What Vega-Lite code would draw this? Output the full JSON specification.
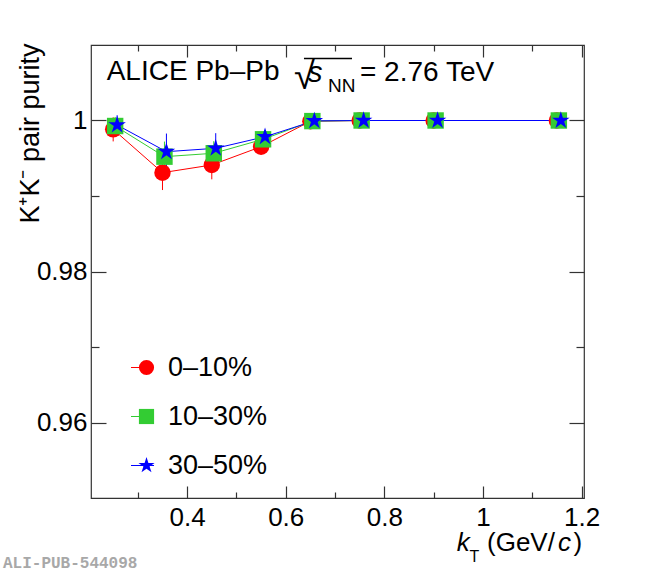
{
  "$schema": "https://vega.github.io/schema/vega-lite/v6.json",
  "width": 493,
  "height": 453,
  "autosize": "none",
  "padding": {"left": 91, "top": 45, "right": 66, "bottom": 74},
  "background": "white",
  "config": {
    "font": "Liberation Sans",
    "view": {"stroke": "#333333", "strokeWidth": 1.2},
    "legend": {"orient": "none", "legendX": 42, "legendY": 309, "padding": 0},
    "axis": {
      "grid": false,
      "domain": false,
      "tickColor": "#333333",
      "tickWidth": 1.2,
      "labelFont": "Liberation Sans",
      "labelFontSize": 26,
      "labelColor": "black",
      "labelFlush": false,
      "labelOverlap": false,
      "titleFont": "Liberation Sans",
      "titleFontWeight": "normal",
      "titleColor": "black"
    }
  },
  "datasets": {
    "purity": [
      {"cent": "0–10%", "kT": 0.25, "purity": 0.99883, "lo": 0.99723, "hi": 1.00043},
      {"cent": "0–10%", "kT": 0.35, "purity": 0.99309, "lo": 0.99079, "hi": 0.99539},
      {"cent": "0–10%", "kT": 0.45, "purity": 0.99411, "lo": 0.99221, "hi": 0.99601},
      {"cent": "0–10%", "kT": 0.55, "purity": 0.99653, "lo": 0.99553, "hi": 0.99753},
      {"cent": "0–10%", "kT": 0.65, "purity": 0.99990, "lo": 0.99960, "hi": 1.00020},
      {"cent": "0–10%", "kT": 0.75, "purity": 1.0, "lo": 0.9999, "hi": 1.0001},
      {"cent": "0–10%", "kT": 0.90, "purity": 1.0, "lo": 0.9999, "hi": 1.0001},
      {"cent": "0–10%", "kT": 1.15, "purity": 1.0, "lo": 0.9999, "hi": 1.0001},
      {"cent": "10–30%", "kT": 0.254, "purity": 0.99927, "lo": 0.99807, "hi": 1.00047},
      {"cent": "10–30%", "kT": 0.354, "purity": 0.99521, "lo": 0.99321, "hi": 0.99721},
      {"cent": "10–30%", "kT": 0.454, "purity": 0.99566, "lo": 0.99406, "hi": 0.99726},
      {"cent": "10–30%", "kT": 0.554, "purity": 0.99751, "lo": 0.99661, "hi": 0.99841},
      {"cent": "10–30%", "kT": 0.654, "purity": 0.99992, "lo": 0.99962, "hi": 1.00022},
      {"cent": "10–30%", "kT": 0.754, "purity": 1.0, "lo": 0.9999, "hi": 1.0001},
      {"cent": "10–30%", "kT": 0.904, "purity": 1.0, "lo": 0.9999, "hi": 1.0001},
      {"cent": "10–30%", "kT": 1.154, "purity": 1.0, "lo": 0.9999, "hi": 1.0001},
      {"cent": "30–50%", "kT": 0.258, "purity": 0.99940, "lo": 0.99810, "hi": 1.00070},
      {"cent": "30–50%", "kT": 0.358, "purity": 0.99587, "lo": 0.99347, "hi": 0.99827},
      {"cent": "30–50%", "kT": 0.458, "purity": 0.99632, "lo": 0.99432, "hi": 0.99832},
      {"cent": "30–50%", "kT": 0.558, "purity": 0.99785, "lo": 0.99705, "hi": 0.99865},
      {"cent": "30–50%", "kT": 0.658, "purity": 0.99995, "lo": 0.99975, "hi": 1.00015},
      {"cent": "30–50%", "kT": 0.758, "purity": 1.0, "lo": 0.9999, "hi": 1.0001},
      {"cent": "30–50%", "kT": 0.908, "purity": 1.0, "lo": 0.9999, "hi": 1.0001},
      {"cent": "30–50%", "kT": 1.158, "purity": 1.0, "lo": 0.9999, "hi": 1.0001}
    ]
  },
  "data": {"name": "purity"},
  "layer": [
    {
      "mark": {"type": "line", "strokeWidth": 1},
      "encoding": {
        "x": {
          "field": "kT", "type": "quantitative",
          "scale": {"domain": [0.205, 1.205], "nice": false, "zero": false},
          "axis": {"orient": "bottom", "values": [0.4, 0.6, 0.8, 1, 1.2], "format": "~g", "tickSize": -12, "labelPadding": 18, "title": null}
        },
        "y": {
          "field": "purity", "type": "quantitative",
          "scale": {"domain": [0.95, 1.01], "nice": false, "zero": false},
          "axis": {
            "orient": "left", "values": [0.96, 0.98, 1], "format": "~g", "tickSize": -15, "labelPadding": 19,
            "title": "K⁺K⁻ pair purity", "titleFontSize": 27, "titleAngle": 270, "titleAlign": "right",
            "titleBaseline": "alphabetic", "titleX": -53, "titleY": -2
          }
        },
        "stroke": {
          "field": "cent", "type": "nominal",
          "scale": {"range": ["#ff0000", "#33cc33", "#0000ff"]},
          "legend": {
            "orient": "none", "legendX": 38, "legendY": 309, "title": null, "padding": 0,
            "labelFont": "Liberation Sans", "labelFontSize": 27, "labelOpacity": 0,
            "labelOffset": 4, "rowPadding": 21, "symbolType": "stroke", "symbolSize": 529, "symbolStrokeWidth": 1
          }
        }
      }
    },
    {
      "mark": {"type": "rule", "strokeWidth": 1},
      "encoding": {
        "x": {
          "field": "kT", "type": "quantitative",
          "axis": {"orient": "bottom", "values": [0.3, 0.5, 0.7, 0.9, 1.1], "tickSize": -6, "labels": false, "title": null}
        },
        "y": {
          "field": "lo", "type": "quantitative",
          "axis": {"orient": "left", "values": [0.97, 0.99], "tickSize": -8, "labels": false, "title": null}
        },
        "y2": {"field": "hi"},
        "stroke": {"field": "cent", "type": "nominal"}
      }
    },
    {
      "mark": {"type": "point", "filled": true, "opacity": 1, "size": 270},
      "encoding": {
        "x": {
          "field": "kT", "type": "quantitative",
          "axis": {"orient": "top", "values": [0.4, 0.6, 0.8, 1, 1.2], "tickSize": -12, "labels": false, "title": null}
        },
        "y": {
          "field": "purity", "type": "quantitative",
          "axis": {"orient": "right", "values": [0.96, 0.98, 1], "tickSize": -15, "labels": false, "title": null}
        },
        "color": {
          "field": "cent", "type": "nominal",
          "scale": {"domain": ["0–10%", "10–30%", "30–50%"], "range": ["#ff0000", "#33cc33", "#0000ff"]},
          "legend": {
            "orient": "none", "legendX": 42, "legendY": 309, "title": null, "padding": 0,
            "labelFont": "Liberation Sans", "labelFontSize": 27, "labelColor": "black",
            "labelOffset": 8, "rowPadding": 21, "symbolSize": 230
          }
        },
        "shape": {
          "field": "cent", "type": "nominal",
          "scale": {
            "domain": ["0–10%", "10–30%", "30–50%"],
            "range": ["circle", "square", "M0,-1.12L0.2501,-0.3443L1.0652,-0.3461L0.4048,0.1315L0.6583,0.9061L0,0.4256L-0.6583,0.9061L-0.4048,0.1315L-1.0652,-0.3461L-0.2501,-0.3443Z"]
          },
          "legend": {
            "orient": "none", "legendX": 42, "legendY": 309, "title": null, "padding": 0,
            "labelFont": "Liberation Sans", "labelFontSize": 27, "labelColor": "black",
            "labelOffset": 8, "rowPadding": 21, "symbolSize": 230
          }
        }
      }
    },
    {
      "data": {"values": [{"t": "ALICE Pb–Pb"}]},
      "mark": {"type": "text", "align": "left", "baseline": "alphabetic", "fontSize": 28, "color": "black"},
      "encoding": {
        "x": {"datum": 0.2368, "type": "quantitative", "axis": {"orient": "top", "values": [0.3, 0.5, 0.7, 0.9, 1.1], "tickSize": -6, "labels": false, "title": null}},
        "y": {"datum": 1.00536, "type": "quantitative", "axis": {"orient": "right", "values": [0.97, 0.99], "tickSize": -8, "labels": false, "title": null}},
        "text": {"field": "t"}
      }
    },
    {
      "data": {"values": [{"t": "√"}]},
      "mark": {"type": "text", "align": "left", "baseline": "alphabetic", "fontSize": 38, "color": "black"},
      "encoding": {
        "x": {"datum": 0.6168, "type": "quantitative", "axis": null},
        "y": {"datum": 1.0042, "type": "quantitative", "axis": null},
        "text": {"field": "t"}
      }
    },
    {
      "data": {"values": [{"t": "overline"}]},
      "mark": {"type": "rule", "strokeWidth": 1.3, "color": "black"},
      "encoding": {
        "x": {"datum": 0.637, "type": "quantitative", "axis": null},
        "x2": {"datum": 0.7344},
        "y": {"datum": 1.00821, "type": "quantitative", "axis": null}
      }
    },
    {
      "data": {"values": [{"t": "s"}]},
      "mark": {"type": "text", "align": "left", "baseline": "alphabetic", "fontSize": 29, "fontStyle": "italic", "color": "black"},
      "encoding": {
        "x": {"datum": 0.6452, "type": "quantitative", "axis": null},
        "y": {"datum": 1.0051, "type": "quantitative", "axis": null},
        "text": {"field": "t"}
      }
    },
    {
      "data": {"values": [{"t": "NN"}]},
      "mark": {"type": "text", "align": "left", "baseline": "alphabetic", "fontSize": 19, "color": "black"},
      "encoding": {
        "x": {"datum": 0.6858, "type": "quantitative", "axis": null},
        "y": {"datum": 1.00371, "type": "quantitative", "axis": null},
        "text": {"field": "t"}
      }
    },
    {
      "data": {"values": [{"t": "= 2.76 TeV"}]},
      "mark": {"type": "text", "align": "left", "baseline": "alphabetic", "fontSize": 28, "color": "black"},
      "encoding": {
        "x": {"datum": 0.7506, "type": "quantitative", "axis": null},
        "y": {"datum": 1.00527, "type": "quantitative", "axis": null},
        "text": {"field": "t"}
      }
    },
    {
      "data": {"values": [{"t": "k"}]},
      "mark": {"type": "text", "align": "left", "baseline": "alphabetic", "fontSize": 26, "fontStyle": "italic", "color": "black"},
      "encoding": {
        "x": {"datum": 0.9468, "type": "quantitative", "axis": null},
        "y": {"datum": 0.94298, "type": "quantitative", "axis": null},
        "text": {"field": "t"}
      }
    },
    {
      "data": {"values": [{"t": "T"}]},
      "mark": {"type": "text", "align": "left", "baseline": "alphabetic", "fontSize": 16, "color": "black"},
      "encoding": {
        "x": {"datum": 0.9728, "type": "quantitative", "axis": null},
        "y": {"datum": 0.94156, "type": "quantitative", "axis": null},
        "text": {"field": "t"}
      }
    },
    {
      "data": {"values": [{"t": "(GeV/"}]},
      "mark": {"type": "text", "align": "left", "baseline": "alphabetic", "fontSize": 26, "color": "black"},
      "encoding": {
        "x": {"datum": 1.0083, "type": "quantitative", "axis": null},
        "y": {"datum": 0.94298, "type": "quantitative", "axis": null},
        "text": {"field": "t"}
      }
    },
    {
      "data": {"values": [{"t": "c"}]},
      "mark": {"type": "text", "align": "left", "baseline": "alphabetic", "fontSize": 26, "fontStyle": "italic", "color": "black"},
      "encoding": {
        "x": {"datum": 1.1522, "type": "quantitative", "axis": null},
        "y": {"datum": 0.94298, "type": "quantitative", "axis": null},
        "text": {"field": "t"}
      }
    },
    {
      "data": {"values": [{"t": ")"}]},
      "mark": {"type": "text", "align": "left", "baseline": "alphabetic", "fontSize": 26, "color": "black"},
      "encoding": {
        "x": {"datum": 1.1838, "type": "quantitative", "axis": null},
        "y": {"datum": 0.94298, "type": "quantitative", "axis": null},
        "text": {"field": "t"}
      }
    },
    {
      "data": {"values": [{"t": "ALI-PUB-544098"}]},
      "mark": {"type": "text", "align": "left", "baseline": "alphabetic", "fontSize": 16, "font": "Liberation Mono", "fontWeight": "bold", "color": "#a8a8a8"},
      "encoding": {
        "x": {"datum": 0.0265, "type": "quantitative", "axis": null},
        "y": {"datum": 0.94073, "type": "quantitative", "axis": null},
        "text": {"field": "t"}
      }
    }
  ],
  "resolve": {"axis": {"x": "independent", "y": "independent"}}
}
